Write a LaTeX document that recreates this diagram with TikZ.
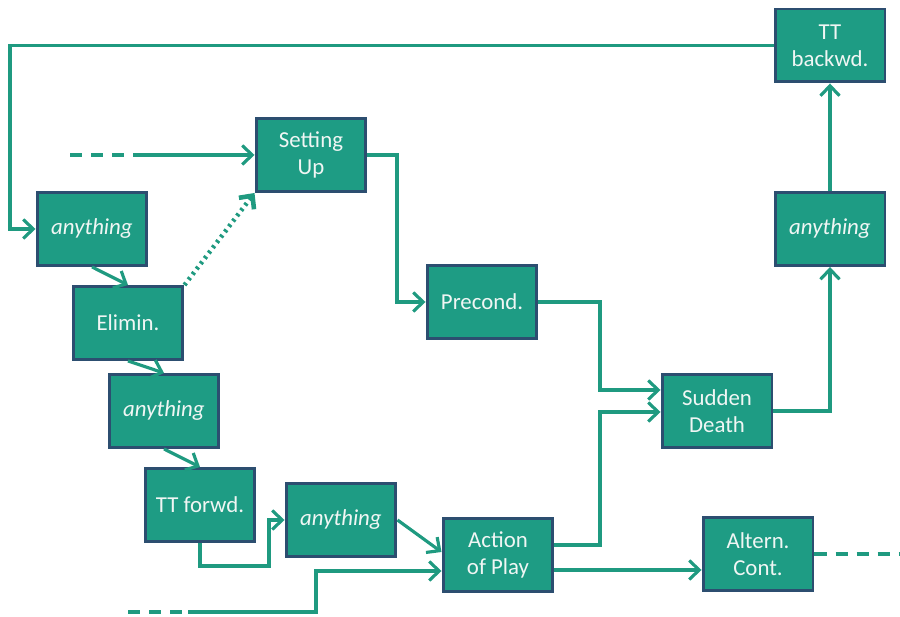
\documentclass[tikz,border=0pt]{standalone}
\usepackage{fontspec}
\setmainfont{Carlito}
\usetikzlibrary{arrows.meta,calc}
\definecolor{playTeal}{RGB}{30,156,132}
\definecolor{playNavy}{RGB}{44,78,112}
\definecolor{playLine}{RGB}{31,154,128}
\definecolor{playText}{RGB}{240,246,244}
\tikzset{
  stage/.style={draw=playNavy, line width=1.7pt, fill=playTeal, text=playText,
    minimum width=2.2cm, minimum height=1.46cm, align=center,
    font=\fontsize{13}{15.5}\selectfont},
  anystage/.style={stage, font=\fontsize{13}{15.5}\selectfont\itshape},
  flow/.style={-{Straight Barb[length=2mm,width=3.8mm]}, line width=1.8pt, draw=playLine},
  flowdot/.style={flow, dash pattern=on 1.5pt off 2.3pt, line width=2.6pt},
  flowdash/.style={line width=1.8pt, draw=playLine, dash pattern=on 7pt off 5pt}
}
\begin{document}
\begin{tikzpicture}[x=0.02cm,y=-0.02cm]
    \useasboundingbox (0,0) rectangle (900,617);
    \node[stage] (backwd) at (830,45.5) {TT\\backwd.};
    \node[anystage] (anyD) at (830,229) {anything};
    \node[stage] (setup) at (311,155) {Setting\\Up};
    \node[anystage] (anyA) at (92,229) {anything};
    \node[stage] (elim) at (128,323) {Elimin.};
    \node[anystage] (anyB) at (164,411) {anything};
    \node[stage] (ttf) at (200,505) {TT forwd.};
    \node[anystage] (anyC) at (341,520) {anything};
    \node[stage] (precond) at (482,302) {Precond.};
    \node[stage] (sudden) at (717,411) {Sudden\\Death};
    \node[stage] (play) at (498,555) {Action\\of Play};
    \node[stage] (altern) at (758,554) {Altern.\\Cont.};
    \coordinate (setdash) at (70,155);
    \coordinate (setfeed) at (137,155);
    \coordinate (playdash) at (128,612);
    \coordinate (playfeed) at (188,612);
    \coordinate (playin) at ($(play.west)+(0,16)$);
    \coordinate (playhigh) at ($(play.east)+(0,-10)$);
    \coordinate (playlow) at ($(play.east)+(0,15)$);
    \coordinate (sudin1) at ($(sudden.west)+(0,-21)$);
    \coordinate (sudin2) at ($(sudden.west)+(0,1)$);
    \coordinate (altout) at (900,554);
    \draw[flow] (backwd.west) -- (10,45.5) |- (anyA.west);
    \draw[flowdash] (setdash) -- (setfeed);
    \draw[flow] (setfeed) -- (setup.west);
    \draw[flow] (anyA.south) -- (elim.north);
    \draw[flowdot] (elim.north east) -- (setup.south west);
    \draw[flow] (elim.south) -- (anyB.north);
    \draw[flow] (anyB.south) -- (ttf.north);
    \draw[flow] (ttf.south) |- (269,566) |- (anyC.west);
    \draw[flow] (anyC.east) -- ($(play.west)+(0,-3)$);
    \draw[flowdash] (playdash) -- (playfeed);
    \draw[flow] (playfeed) -- (316,612) |- (playin);
    \draw[flow] (setup.east) -- (397,155) |- (precond.west);
    \draw[flow] (precond.east) -- (600,302) |- (sudin1);
    \draw[flow] (playhigh) -- (600,545) |- (sudin2);
    \draw[flow] (playlow) -- (playlow -| altern.west);
    \draw[flow] (sudden.east) -| (anyD.south);
    \draw[flow] (anyD.north) -- (backwd.south);
    \draw[flowdash] (altern.east) -- (altout);
  \end{tikzpicture}
\end{document}
